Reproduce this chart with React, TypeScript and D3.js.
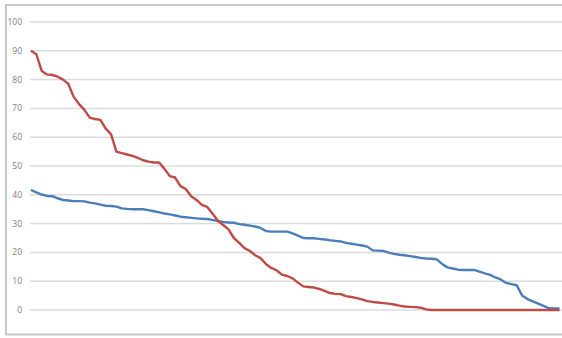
import React from "react";
import * as d3 from "d3";

const yTicks = [0, 10, 20, 30, 40, 50, 60, 70, 80, 90, 100];

const redSeries = [
  90, 88.8, 83, 81.8, 81.6, 81, 80, 78.5, 74, 71.5,
  69.5, 66.8, 66.3, 66, 63, 61, 55, 54.5, 54, 53.5,
  52.8, 52, 51.5, 51.2, 51.2, 49, 46.5, 46, 43, 42,
  39.5, 38.2, 36.5, 35.8, 33.5, 31, 29.5, 28, 25, 23.3,
  21.5, 20.5, 19, 18, 16, 14.6, 13.8, 12.3, 11.8, 11,
  9.5, 8.2, 8, 7.8, 7.3, 6.6, 5.9, 5.6, 5.5, 4.8,
  4.5, 4.1, 3.7, 3.1, 2.8, 2.6, 2.4, 2.2, 1.9, 1.5,
  1.2, 1.1, 1, 0.8, 0.2, 0, 0, 0, 0, 0,
  0, 0, 0, 0, 0, 0, 0, 0, 0, 0,
  0, 0, 0, 0, 0, 0, 0, 0, 0, 0,
];

const blueSeries = [
  41.7, 40.8, 40.1, 39.6, 39.5, 38.8, 38.2, 38, 37.8, 37.8,
  37.7, 37.3, 37, 36.6, 36.2, 36.1, 35.9, 35.3, 35.1, 35,
  35, 35, 34.7, 34.3, 33.9, 33.5, 33.2, 32.8, 32.4, 32.2,
  32, 31.8, 31.7, 31.6, 31.3, 30.9, 30.6, 30.4, 30.3, 29.8,
  29.6, 29.3, 29, 28.5, 27.4, 27.2, 27.2, 27.2, 27.2, 26.6,
  25.8, 25, 24.9, 24.9, 24.7, 24.5, 24.2, 24, 23.8, 23.3,
  23, 22.7, 22.4, 22, 20.7, 20.6, 20.5, 19.9, 19.5, 19.2,
  19, 18.7, 18.4, 18.1, 17.9, 17.8, 17.6, 16, 14.8, 14.4,
  14, 13.9, 13.9, 13.9, 13.3, 12.7, 12.2, 11.3, 10.6, 9.4,
  9, 8.6, 5, 3.8, 3, 2.2, 1.4, 0.6, 0.5, 0.5,
];

const W = 562;
const H = 338;

export default function App() {
  const x = d3.scaleLinear().domain([0, redSeries.length - 1]).range([31, 559.5]);
  const y = d3.scaleLinear().domain([0, 100]).range([310, 22]);
  const line = d3
    .line<number>()
    .x((_, i) => x(i))
    .y((d) => y(d));

  return (
    <svg
      width={W}
      height={H}
      style={{ position: "absolute", left: 0, top: 0, background: "#fff" }}
    >
      <rect x={6} y={5} width={W + 10} height={329.5} fill="#fff" stroke="#c8c8c8" strokeWidth={2} />
      {yTicks.map((t) => (
        <g key={t}>
          <line x1={30} x2={W} y1={y(t)} y2={y(t)} stroke="#dcdcdc" strokeWidth={1.5} />
          <text
            x={22}
            y={y(t)}
            dy="0.35em"
            textAnchor="end"
            fontSize={8.5}
            fontFamily="'Open Sans', 'DejaVu Sans', sans-serif"
            fill="#7f7f7f"
          >
            {t}
          </text>
        </g>
      ))}
      <path d={line(blueSeries) || ""} fill="none" stroke="#4a7ebb" strokeWidth={2.4} strokeLinejoin="round" />
      <path d={line(redSeries) || ""} fill="none" stroke="#be4b48" strokeWidth={2.4} strokeLinejoin="round" />
    </svg>
  );
}
